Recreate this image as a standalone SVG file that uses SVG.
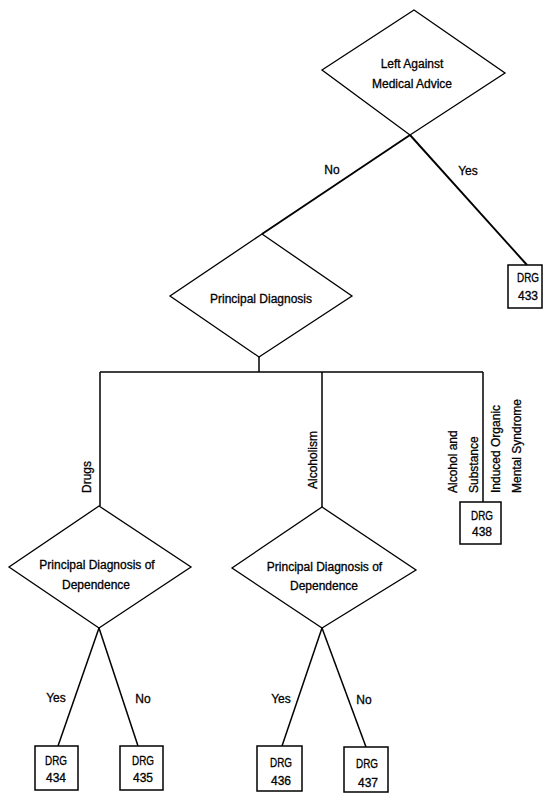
<svg xmlns="http://www.w3.org/2000/svg" width="552" height="798" viewBox="0 0 552 798">
  <style>
    .bg { fill: #ffffff; }
    .dec { fill: #ffffff; stroke: #000; stroke-width: 1.3; stroke-linejoin: miter; }
    .box { fill: #ffffff; stroke: #000; stroke-width: 1.5; }
    .wire { fill: none; stroke: #000; stroke-width: 1.5; stroke-linecap: butt; }
    .wire.heavy { stroke-width: 1.9; }
    text { font-family: "Liberation Sans", Arial, sans-serif; font-size: 12px; fill: #000; stroke: #000; stroke-width: 0.3; }
    .c { text-anchor: middle; }
  </style>

  <rect class="bg" x="0" y="0" width="552" height="798"/>

  <!-- connectors -->
  <g id="connectors">
    <polyline class="wire heavy" points="410,135 262,234"/>
    <polyline class="wire heavy" points="410,135 527,265"/>
    <polyline class="wire" points="259,357 259,372"/>
    <polyline class="wire" points="100,372 483,372"/>
    <polyline class="wire" points="100,372 100,506"/>
    <polyline class="wire" points="322,372 322,507"/>
    <polyline class="wire" points="483,372 483,502"/>
    <polyline class="wire" points="99,628 58,746"/>
    <polyline class="wire" points="99,628 138,746"/>
    <polyline class="wire" points="322,628 282,746"/>
    <polyline class="wire" points="322,628 366,747"/>

    <text class="c" x="332" y="174">No</text>
    <text class="c" x="468" y="175">Yes</text>
    <text transform="translate(90.5,493) rotate(-90)">Drugs</text>
    <text transform="translate(316.5,489) rotate(-90)">Alcoholism</text>
    <text transform="translate(456.5,493) rotate(-90)">Alcohol and</text>
    <text transform="translate(478,493) rotate(-90)">Substance</text>
    <text transform="translate(500,493) rotate(-90)">Induced Organic</text>
    <text transform="translate(520.5,493) rotate(-90)">Mental Syndrome</text>
    <text class="c" x="56" y="702">Yes</text>
    <text class="c" x="143" y="703">No</text>
    <text class="c" x="281" y="703">Yes</text>
    <text class="c" x="364" y="704">No</text>
  </g>

  <!-- decision: left against medical advice -->
  <g id="n-ama">
    <polygon class="dec" points="414,10 505,73 410,135 322,70"/>
    <text class="c" x="412" y="67.5">Left Against</text>
    <text class="c" x="412" y="88">Medical Advice</text>
  </g>

  <g id="n-drg433">
    <rect class="box" x="508" y="265" width="34" height="43"/>
    <text class="c" x="528" y="282" textLength="22" lengthAdjust="spacingAndGlyphs">DRG</text>
    <text class="c" x="528" y="300">433</text>
  </g>

  <!-- decision: principal diagnosis -->
  <g id="n-pdx">
    <polygon class="dec" points="262,234 352,296 259,357 170,296"/>
    <text class="c" x="261" y="303">Principal Diagnosis</text>
  </g>

  <g id="n-drg438">
    <rect class="box" x="460" y="502" width="41" height="42"/>
    <text class="c" x="482" y="519.5" textLength="22" lengthAdjust="spacingAndGlyphs">DRG</text>
    <text class="c" x="482" y="536">438</text>
  </g>

  <!-- decision: dependence (drugs) -->
  <g id="n-dep-drugs">
    <polygon class="dec" points="99,506 191,567 99,628 9,567"/>
    <text class="c" x="97" y="569">Principal Diagnosis of</text>
    <text class="c" x="96" y="588.5">Dependence</text>
  </g>

  <!-- decision: dependence (alcoholism) -->
  <g id="n-dep-alc">
    <polygon class="dec" points="322,507 416,570 322,628 232,568"/>
    <text class="c" x="324.5" y="571">Principal Diagnosis of</text>
    <text class="c" x="324" y="590">Dependence</text>
  </g>

  <g id="n-drg434">
    <rect class="box" x="35" y="746" width="43" height="44"/>
    <text class="c" x="56" y="765" textLength="22" lengthAdjust="spacingAndGlyphs">DRG</text>
    <text class="c" x="56" y="782">434</text>
  </g>

  <g id="n-drg435">
    <rect class="box" x="120" y="746" width="43" height="44"/>
    <text class="c" x="143" y="765" textLength="22" lengthAdjust="spacingAndGlyphs">DRG</text>
    <text class="c" x="143" y="782">435</text>
  </g>

  <g id="n-drg436">
    <rect class="box" x="257" y="746" width="45" height="45"/>
    <text class="c" x="281" y="766.5" textLength="22" lengthAdjust="spacingAndGlyphs">DRG</text>
    <text class="c" x="281" y="785">436</text>
  </g>

  <g id="n-drg437">
    <rect class="box" x="344" y="747" width="44" height="45"/>
    <text class="c" x="367" y="767.5" textLength="22" lengthAdjust="spacingAndGlyphs">DRG</text>
    <text class="c" x="368" y="786.5">437</text>
  </g>
</svg>
